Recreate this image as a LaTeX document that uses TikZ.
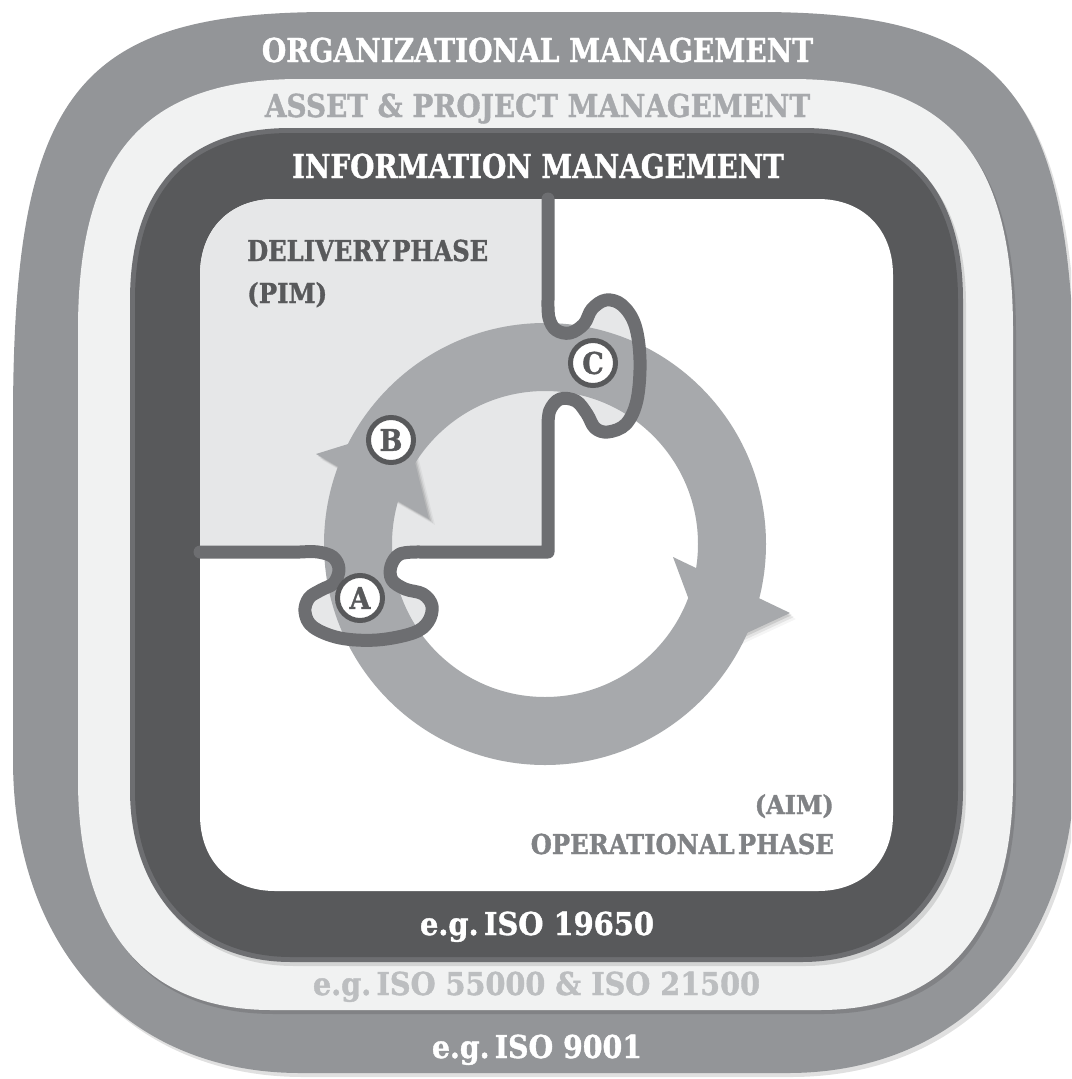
\documentclass[tikz,border=0pt]{standalone}
\usepackage{fontspec}
\usepackage{graphicx}
\newfontfamily\labfont{DejaVu Serif Condensed}[BoldFeatures={FakeBold=1.2}]
\definecolor{cOuter}{HTML}{939598}
\definecolor{cLight}{HTML}{F1F2F2}
\definecolor{cDark}{HTML}{58595B}
\definecolor{cDarkEdge}{HTML}{6D6E71}
\definecolor{cLine}{HTML}{6D6E71}
\definecolor{cPiece}{HTML}{E6E7E8}
\definecolor{cRing}{HTML}{A7A9AC}
\definecolor{cAssetTxt}{HTML}{A7A9AC}
\definecolor{cOpTxt}{HTML}{808285}
\definecolor{cIsoTxt}{HTML}{BCBEC0}
\newcommand\txtfit[3]{\resizebox{#1pt}{#2pt}{\raisebox{0pt}[\fontcharht\font`I][0pt]{#3}}}
\def\pOuter{(13,420) .. controls (13,93.6) and (76.4,12) .. (330,12) -- (758,12) .. controls (1011.6,12) and (1075,93.6) .. (1075,420) -- (1075,760) .. controls (1075,947.8) and (960.2,1073) .. (788,1073) -- (300,1073) .. controls (127.8,1073) and (13,947.8) .. (13,760) -- cycle}
\def\pLight{(78,330) .. controls (78,154.3) and (144.6,79) .. (300,79) -- (791,79) .. controls (946.4,79) and (1013,154.3) .. (1013,330) -- (1013,780) .. controls (1013,929.5) and (945.5,1010) .. (820,1010) -- (271,1010) .. controls (145.5,1010) and (78,929.5) .. (78,780) -- cycle}
\def\pDarkA{(130,300) .. controls (130,188.2) and (186,128) .. (290,128) -- (803,128) .. controls (907,128) and (963,188.2) .. (963,300) -- (963,790) .. controls (963,893.2) and (898.6,962) .. (802,962) -- (291,962) .. controls (194.4,962) and (130,893.2) .. (130,790) -- cycle}
\def\pDarkB{(135,300) .. controls (135,191.5) and (189,133) .. (290,133) -- (803,133) .. controls (903.75,133) and (958,191.5) .. (958,300) -- (958,790) .. controls (958,890.2) and (895.6,957) .. (802,957) -- (291,957) .. controls (197.4,957) and (135,890.2) .. (135,790) -- cycle}
\def\pInner{(200,275) .. controls (200,229.4) and (230,199) .. (275,199) -- (818,199) .. controls (863,199) and (893,229.4) .. (893,275) -- (893,815) .. controls (893,860.6) and (863,891) .. (818,891) -- (275,891) .. controls (230,891) and (200,860.6) .. (200,815) -- cycle}
\def\knobC{(548,300) (549,318) (556,330) (570,333) (584,324) (592,309) (606,300) (622,305) (635,325) (640,360) (637,400) (626,424) (608,432) (595,428) (587,414) (576,401) (560,399) (550,410) (548,425)}
\def\knobA{(420,552) (400,554) (391,566) (392,580) (405,589) (423,594) (432,606) (428,622) (413,633) (377,640) (340,638) (313,627) (305,612) (309,598) (321,590) (334,583) (339,569) (333,557) (318,552) (300,552)}
\def\headB{(316,454) -- (406,426) -- (429,519) -- cycle}
\def\headR{(790,613) -- (708,651) -- (673,557) -- cycle}
\begin{document}
\begin{tikzpicture}[x=1pt,y=-1pt,
  lab/.style={inner sep=0pt, font=\labfont\bfseries},
  letc/.style={circle, draw=cDark, line width=5pt, fill=white, minimum size=45pt, inner sep=0pt,
     text=cDark, font=\labfont\bfseries\fontsize{30}{30}\selectfont},
  pline/.style={draw=cLine, line width=13pt, line join=round, line cap=round},
  shad/.style={fill=black, opacity=0.12}]
\useasboundingbox (0,0) rectangle (1071,1079);
\fill[white] (0,0) rectangle (1071,1079);
\clip (0,0) rectangle (1071,1079);
% outer layer
\begin{scope}[shift={(3,4)}]\fill[shad] \pOuter;\end{scope}
\fill[cOuter] \pOuter;
% light layer
\begin{scope}[shift={(3,4)}]\fill[shad] \pLight;\end{scope}
\fill[cLight] \pLight;
% dark layer
\begin{scope}[shift={(3,4)}]\fill[shad] \pDarkA;\end{scope}
\fill[cDarkEdge] \pDarkA;
\fill[cDark] \pDarkB;
% inner area
\fill[white] \pInner;
\begin{scope}
  \clip \pInner;
  \fill[cPiece] (190,190) -- (548,190) -- plot[smooth, tension=0.6] coordinates {\knobC}
     -- (548,552) -- plot[smooth, tension=0.6] coordinates {\knobA} -- (190,552) -- cycle;
\end{scope}
% soft shadows of the arrowheads
\foreach \s/\o in {2/0.10, 4/0.07, 6/0.04}{
  \begin{scope}[shift={(\s,\s)}]
    \fill[black, opacity=\o] \headB;
    \fill[black, opacity=\o] \headR;
  \end{scope}}
% ring with arrowheads
\draw[cRing, line width=68pt] (545,544) circle[radius=187];
\fill[cRing] \headB;
\fill[cRing] \headR;
% puzzle outline
\draw[pline] (548,199) -- plot[smooth, tension=0.6] coordinates {\knobC}
   -- (548,552) -- plot[smooth, tension=0.6] coordinates {\knobA} -- (200,552);
% markers
\node[letc] (cA) at (360,598) {A};
\node[letc] (cB) at (391,440) {B};
\node[letc] (cC) at (593,363) {C};
% texts
\node[lab, text=white, anchor=base] (org) at (537.5,62) {\txtfit{551}{24}{ORGANIZATIONAL MANAGEMENT}};
\node[lab, text=cAssetTxt, anchor=base] (apm) at (537.5,117) {\txtfit{545}{23}{ASSET \& PROJECT MANAGEMENT}};
\node[lab, text=white, anchor=base] (im) at (538,178) {\txtfit{492}{24}{INFORMATION MANAGEMENT}};
\node[lab, text=cDark, anchor=base west] (dp) at (247,261) {\txtfit{241}{21}{DELIVERY\kern0.12em PHASE}};
\node[lab, text=cDark, anchor=base west] (pim) at (247,303) {\txtfit{80}{20}{(PIM)}};
\node[lab, text=cOpTxt, anchor=base east] (aim) at (834,814) {\txtfit{79}{19}{(AIM)}};
\node[lab, text=cOpTxt, anchor=base east] (op) at (834,854) {\txtfit{303}{20}{OPERATIONAL\kern0.12em PHASE}};
\node[lab, text=white, anchor=base] (iso1) at (537,935) {\txtfit{234}{23}{e.g.\,ISO 19650}};
\node[lab, text=cIsoTxt, anchor=base] (iso2) at (536.5,995) {\txtfit{447}{23}{e.g.\,ISO 55000 \& ISO 21500}};
\node[lab, text=white, anchor=base] (iso3) at (537,1058) {\txtfit{210}{23}{e.g.\,ISO 9001}};
\end{tikzpicture}
\end{document}
